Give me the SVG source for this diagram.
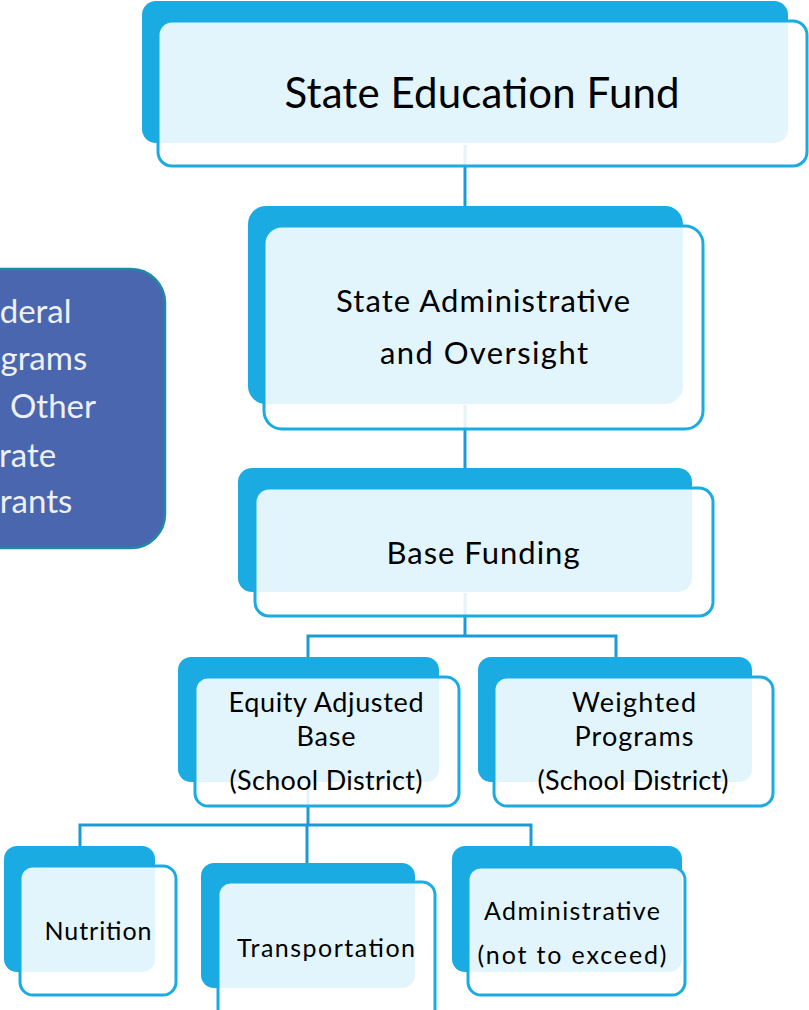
<svg xmlns="http://www.w3.org/2000/svg" width="809" height="1010" viewBox="0 0 809 1010">
<style>
.back{fill:#1BABE3;}
.front{fill:#ffffff;fill-opacity:0.88;stroke:#1BABE3;stroke-width:3;}
.conn{stroke:#1B9BD6;stroke-width:3;fill:none;}
.t{font-family:Lato,"Open Sans","Liberation Sans",sans-serif;fill:#000;text-anchor:middle;}
.side{font-family:Lato,"Open Sans","Liberation Sans",sans-serif;fill:#EEF0F6;font-size:33px;}
</style>
<rect width="809" height="1010" fill="#ffffff"/>
<g id="side-box">
<rect x="-40" y="269" width="205" height="279" rx="34" fill="#4A66AE" stroke="#1D8BA8" stroke-width="2.5"/>
<text class="side" x="-35" y="323">Federal</text>
<text class="side" x="-49" y="370">Programs</text>
<text class="side" y="418"><tspan x="-54">and</tspan><tspan x="10">Other</tspan></text>
<text class="side" x="-71" y="467">Separate</text>
<text class="side" x="-24" y="513">Grants</text>
</g>
<g id="connectors">
<line class="conn" x1="465" y1="145" x2="465" y2="207"/>
<line class="conn" x1="465" y1="405" x2="465" y2="469"/>
<path class="conn" d="M465 593 V636 M308 636 H616 M308 634.5 V658 M616 634.5 V658"/>
<path class="conn" d="M308 783 V825 M80 825 H531 M80 823.5 V847 M531 823.5 V847 M307 823.5 V864"/>
</g>
<g id="node-fund">
<rect class="back" x="142" y="1" width="646" height="142" rx="14"/>
<rect class="front" x="158" y="21" width="649" height="145" rx="14"/>
<text class="t" x="482" y="108" font-size="42" textLength="395">State Education Fund</text>
</g>
<g id="node-admin">
<rect class="back" x="248" y="206" width="435" height="198" rx="18"/>
<rect class="front" x="264" y="226" width="439" height="203" rx="18"/>
<text class="t" x="483" y="312" font-size="31" textLength="294">State Administrative</text>
<text class="t" x="484" y="364" font-size="31" textLength="208">and Oversight</text>
</g>
<g id="node-base">
<rect class="back" x="238" y="468" width="454" height="124" rx="14"/>
<rect class="front" x="255" y="488" width="458" height="128" rx="14"/>
<text class="t" x="483" y="564" font-size="31" textLength="193">Base Funding</text>
</g>
<g id="node-equity">
<rect class="back" x="178" y="657" width="261" height="125" rx="13"/>
<rect class="front" x="195" y="677" width="264" height="129" rx="13"/>
<text class="t" x="326" y="712" font-size="27" textLength="195">Equity Adjusted</text>
<text class="t" x="326" y="746" font-size="27" textLength="59">Base</text>
<text class="t" x="326" y="790" font-size="27" textLength="193">(School District)</text>
</g>
<g id="node-weighted">
<rect class="back" x="478" y="657" width="274" height="125" rx="13"/>
<rect class="front" x="494" y="677" width="279" height="129" rx="13"/>
<text class="t" x="634" y="712" font-size="27" textLength="124">Weighted</text>
<text class="t" x="634" y="746" font-size="27" textLength="119">Programs</text>
<text class="t" x="633" y="790" font-size="27" textLength="191">(School District)</text>
</g>
<g id="node-nutrition">
<rect class="back" x="4" y="846" width="151" height="126" rx="13"/>
<rect class="front" x="20" y="866" width="156" height="129" rx="13"/>
<text class="t" x="98" y="940" font-size="25" textLength="107">Nutrition</text>
</g>
<g id="node-transportation">
<rect class="back" x="201" y="863" width="214" height="125" rx="13"/>
<rect class="front" x="218" y="882" width="217" height="140" rx="13"/>
<text class="t" x="326" y="957" font-size="25" textLength="178">Transportation</text>
</g>
<g id="node-administrative">
<rect class="back" x="452" y="846" width="230" height="126" rx="13"/>
<rect class="front" x="468" y="867" width="217" height="128" rx="13"/>
<text class="t" x="572" y="920" font-size="25" textLength="176">Administrative</text>
<text class="t" x="572" y="964" font-size="25" textLength="189">(not to exceed)</text>
</g>
</svg>
